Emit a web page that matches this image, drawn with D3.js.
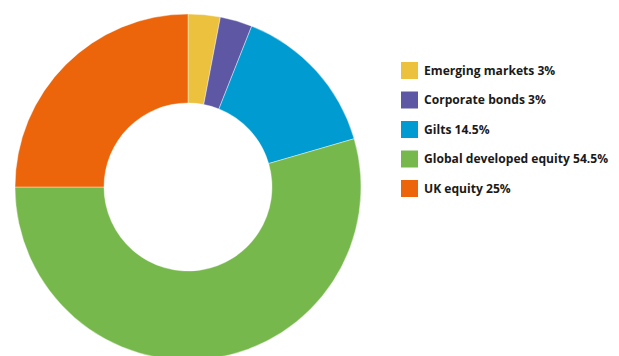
<!DOCTYPE html>
<html>
<head>
    <meta charset="utf-8">
    <title>Asset allocation</title>
    <script src="https://d3js.org/d3.v7.min.js"></script>
    <style type="text/css">
        body { margin: 0; background: #fff; }
        .legend text {
            font-family: 'Open Sans', sans-serif;
            font-weight: bold;
            font-size: 12.1px;
            fill: #1a1a1a;
        }
    </style>
</head>
<body>
    <script type="text/javascript">
        // data
        const categories = ["Emerging markets", "Corporate bonds", "Gilts", "Global developed equity", "UK equity"];
        const values = [3, 3, 14.5, 54.5, 25];
        const labels = ["Emerging markets 3%", "Corporate bonds 3%", "Gilts 14.5%", "Global developed equity 54.5%", "UK equity 25%"];
        const colours = ["#ebc13e", "#5e58a4", "#009bd0", "#76b84c", "#ec650b"];

        const svgW = 619, svgH = 356;
        const cx = 188, cy = 187, outerR = 173, innerR = 84;

        const svg = d3.select("body").append("svg")
            .attr("width", svgW)
            .attr("height", svgH);

        const colour = d3.scaleOrdinal().domain(categories).range(colours);

        const pie = d3.pie().sort(null).value(d => d.value);
        const arc = d3.arc().innerRadius(innerR).outerRadius(outerR);

        const rows = categories.map((c, i) => ({ name: c, value: values[i], label: labels[i] }));

        // donut
        const g = svg.append("g").attr("transform", `translate(${cx},${cy})`);
        g.selectAll("path")
            .data(pie(rows))
            .join("path")
            .attr("d", arc)
            .attr("fill", d => colour(d.data.name))
            .attr("stroke", "#fff")
            .attr("stroke-width", 0.4);

        // legend
        const legendY = d3.scalePoint().domain(categories).range([62, 180]);
        const legend = svg.append("g").attr("class", "legend");
        const item = legend.selectAll("g")
            .data(rows)
            .join("g")
            .attr("transform", d => `translate(401,${legendY(d.name)})`);
        item.append("rect")
            .attr("width", 17)
            .attr("height", 17)
            .attr("fill", d => colour(d.name));
        item.append("text")
            .attr("x", 23)
            .attr("y", 12.5)
            .text(d => d.label);
    </script>
</body>
</html>
